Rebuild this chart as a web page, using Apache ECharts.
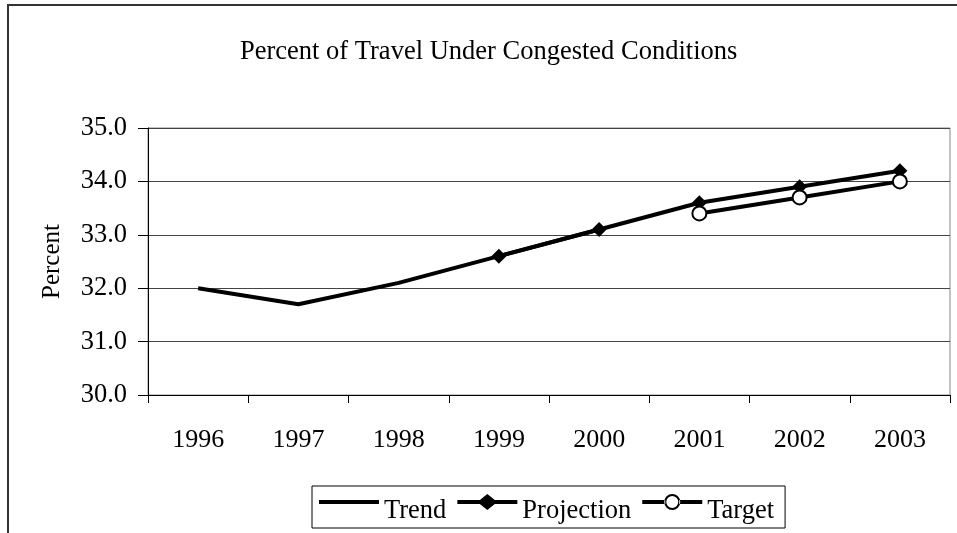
<!DOCTYPE html>
<html>
<head>
<meta charset="utf-8">
<style>
  html, body { margin: 0; padding: 0; background: #fff; }
  #chart { width: 957px; height: 533px; }
  #frame {
    position: absolute; left: 7px; top: 4px; right: 0; bottom: 0;
    border-left: 2px solid #333; border-top: 2px solid #333;
    pointer-events: none;
  }
</style>
<script src="https://cdn.jsdelivr.net/npm/echarts@6/dist/echarts.min.js"></script>
</head>
<body>
<div id="chart"></div>
<div id="frame"></div>
<script>
const years = ['1996', '1997', '1998', '1999', '2000', '2001', '2002', '2003']
const trend = [32.0, 31.7, 32.1, 32.6, 33.1, null, null, null]
const projection = [null, null, null, 32.6, 33.1, 33.6, 33.9, 34.2]
const target = [null, null, null, null, null, 33.4, 33.7, 34.0]

const serif = "'Liberation Serif', 'Times New Roman', serif"

// legend icons sit above the text midline, like the old spreadsheet legend
const corners = 'M0,0L0,0Z M60,34L60,34Z '
const trendIcon = 'path://' + corners + 'M0,6L60,6L60,10L0,10Z'
const projectionIcon = 'path://' + corners + 'M0,6L60,6L60,10L0,10Z M30,0L40,8L30,16L20,8Z'
const targetIcon = 'path://' + corners +
  'M0,6L23,6L23,10L0,10Z M37,6L60,6L60,10L37,10Z ' +
  'M22,8A8,8 0 1,0 38,8A8,8 0 1,0 22,8Z M24,8A6,6 0 1,1 36,8A6,6 0 1,1 24,8Z'

const chart = echarts.init(document.getElementById('chart'))
chart.setOption({
  animation: false,
  textStyle: { fontFamily: serif, color: '#000' },
  title: {
    text: 'Percent of Travel Under Congested Conditions',
    left: 235,
    top: 34,
    textStyle: { fontFamily: serif, fontSize: 26.5, fontWeight: 'normal', color: '#000' }
  },
  grid: {
    left: 148,
    top: 128,
    width: 802,
    height: 267,
    show: true,
    borderColor: '#888',
    borderWidth: 1
  },
  legend: {
    left: 312,
    top: 486,
    borderColor: '#000',
    borderWidth: 1,
    padding: [8, 11, 0, 7],
    itemGap: 11,
    itemWidth: 60,
    itemHeight: 34,
    itemStyle: { color: '#000', borderWidth: 0 },
    textStyle: { fontFamily: serif, fontSize: 26.5, color: '#000' },
    data: [
      { name: 'Trend', icon: trendIcon },
      { name: 'Projection', icon: projectionIcon },
      { name: 'Target', icon: targetIcon }
    ]
  },
  xAxis: {
    type: 'category',
    data: years,
    boundaryGap: true,
    axisLine: { lineStyle: { color: '#000', width: 1 } },
    axisTick: { show: true, length: 8, lineStyle: { color: '#000' } },
    axisLabel: { fontFamily: serif, fontSize: 26, color: '#000', margin: 32 },
    splitLine: { show: false }
  },
  yAxis: {
    type: 'value',
    min: 30,
    max: 35,
    interval: 1,
    name: 'Percent',
    nameLocation: 'middle',
    nameGap: 83,
    nameTextStyle: { fontFamily: serif, fontSize: 25, color: '#000' },
    axisLine: { show: true, lineStyle: { color: '#000', width: 1 } },
    axisTick: { show: true, length: 10, lineStyle: { color: '#000' } },
    axisLabel: {
      fontFamily: serif, fontSize: 26.5, color: '#000', margin: 21,
      formatter: v => v.toFixed(1)
    },
    splitLine: { show: true, lineStyle: { color: '#444', width: 1 } }
  },
  series: [{
    name: 'Trend',
    type: 'line',
    data: trend,
    symbol: 'none',
    lineStyle: { color: '#000', width: 4 },
    itemStyle: { color: '#000' }
  }, {
    name: 'Projection',
    type: 'line',
    data: projection,
    symbol: 'diamond',
    symbolSize: 15,
    lineStyle: { color: '#000', width: 4 },
    itemStyle: { color: '#000' }
  }, {
    name: 'Target',
    type: 'line',
    data: target,
    symbol: 'circle',
    symbolSize: 14,
    lineStyle: { color: '#000', width: 4 },
    itemStyle: { color: '#fff', borderColor: '#000', borderWidth: 2 }
  }]
})
</script>
</body>
</html>
